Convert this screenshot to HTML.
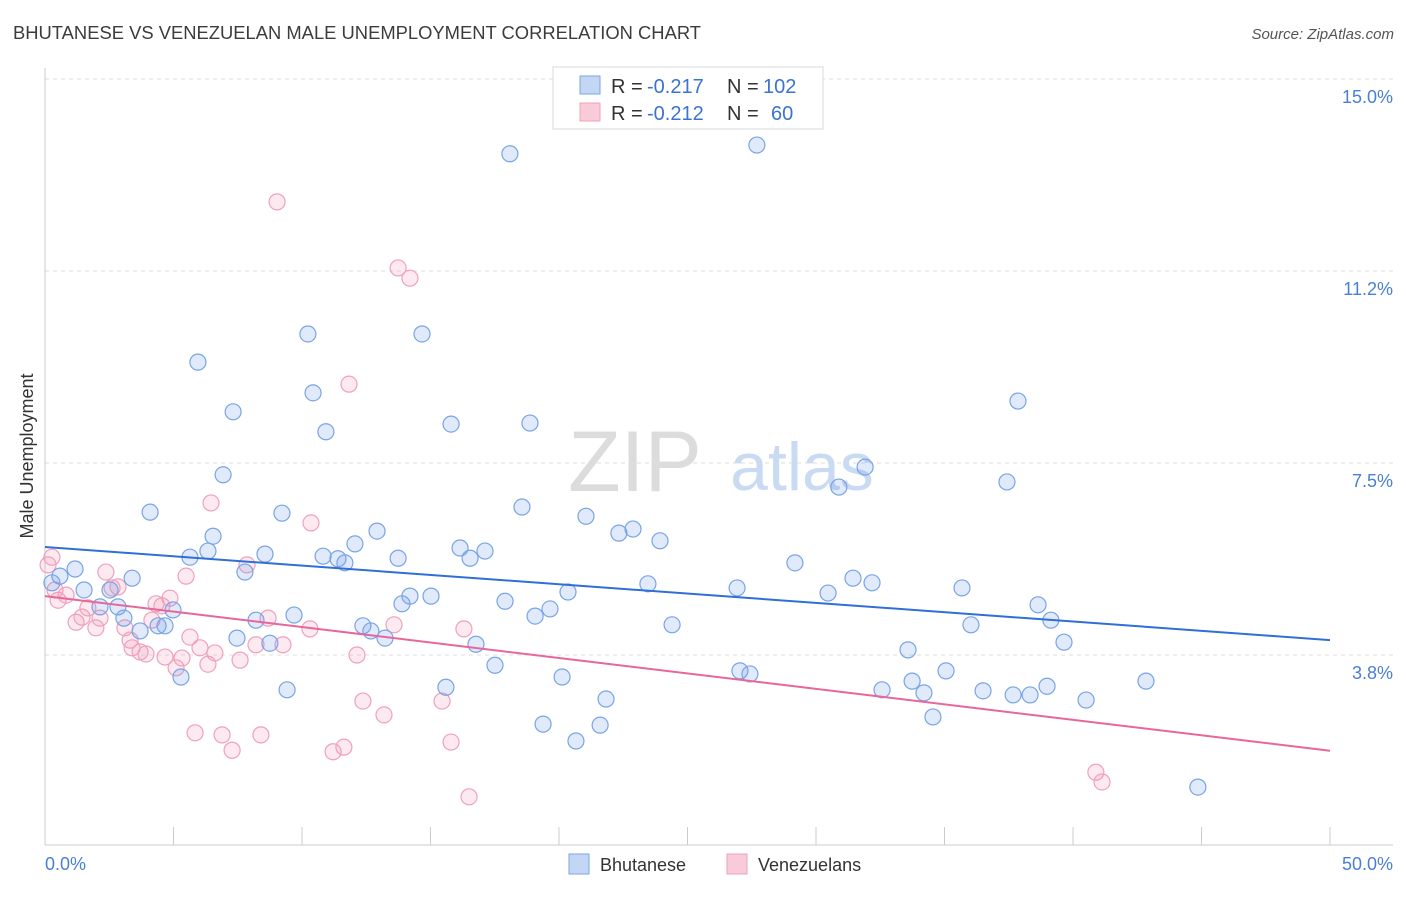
<!DOCTYPE html>
<html><head><meta charset="utf-8"><style>
body{margin:0;background:#fff;font-family:"Liberation Sans",sans-serif}
svg text{font-family:"Liberation Sans",sans-serif}
</style></head><body>
<svg id="chart" width="1406" height="892" viewBox="0 0 1406 892" xmlns="http://www.w3.org/2000/svg">
<text x="13" y="39" font-size="18" fill="#3c3c3c" textLength="688" lengthAdjust="spacingAndGlyphs">BHUTANESE VS VENEZUELAN MALE UNEMPLOYMENT CORRELATION CHART</text>
<text x="1394" y="39" font-size="15" fill="#555" text-anchor="end" font-style="italic">Source: ZipAtlas.com</text>
<g id="grid"></g>
<g>
<text x="635" y="491" font-size="86" fill="#dcdcdc" text-anchor="middle" font-family="Liberation Serif, serif">ZIP</text>
<text x="802" y="490" font-size="68" fill="#c9daf3" text-anchor="middle">atlas</text>
</g>
<g id="points"></g>
<g id="trends"></g>
<text transform="translate(33,456) rotate(-90)" font-size="18" fill="#333" text-anchor="middle">Male Unemployment</text>
<text x="45" y="870" font-size="18" fill="#4a7fd4">0.0%</text>
<text x="1393" y="870" font-size="18" fill="#4a7fd4" text-anchor="end">50.0%</text>
<g>
<rect x="553" y="67" width="270" height="62" fill="#fff" stroke="#d8d8d8"/>
<rect x="580" y="76" width="20" height="18" fill="#c3d7f5" stroke="#7aa6e6"/>
<rect x="580" y="103" width="20" height="18" fill="#f9cbd9" stroke="#f0a0bb"/>
<text x="611" y="93" font-size="20" fill="#333">R =</text>
<text x="647" y="93" font-size="20" fill="#3b73d0">-0.217</text>
<text x="727" y="93" font-size="20" fill="#333">N =</text>
<text x="763" y="93" font-size="20" fill="#3b73d0">102</text>
<text x="611" y="120" font-size="20" fill="#333">R =</text>
<text x="647" y="120" font-size="20" fill="#3b73d0">-0.212</text>
<text x="727" y="120" font-size="20" fill="#333">N =</text>
<text x="771" y="120" font-size="20" fill="#3b73d0">60</text>
</g>
<g>
<rect x="569" y="854" width="20" height="20" fill="#c3d7f5" stroke="#7aa6e6"/>
<text x="600" y="871" font-size="18" fill="#333">Bhutanese</text>
<rect x="727" y="854" width="20" height="20" fill="#f9cbd9" stroke="#f0a0bb"/>
<text x="758" y="871" font-size="18" fill="#333">Venezuelans</text>
</g>
</svg>
<script>
const yTicks=[3.8,7.5,11.2,15.0];
const yTickVals=[3.75,7.5,11.25,15.0];
const xTicks=[0,5,10,15,20,25,30,35,40,45,50];
const bhuX=[18.09,27.70,5.95,10.23,14.67,7.32,10.43,10.93,15.80,18.87,37.86,6.93,4.09,9.22,18.56,21.05,31.91,30.89,37.43,6.54,6.34,5.64,8.56,10.82,11.40,11.67,12.06,12.92,13.74,16.15,16.54,17.12,22.33,22.88,23.93,29.18,1.17,0.58,0.27,1.52,2.53,3.39,2.14,2.84,3.07,3.70,4.40,4.67,4.98,7.78,7.47,8.21,8.75,9.69,12.37,12.68,13.23,13.89,14.20,15.02,16.77,17.90,19.07,19.65,20.35,23.46,24.40,26.93,31.44,32.18,30.47,35.68,36.03,38.64,39.14,39.65,5.29,9.42,15.60,17.51,20.12,21.83,27.04,27.43,19.38,20.66,21.60,33.58,33.74,34.20,35.06,32.57,34.55,36.50,37.67,38.33,38.99,40.51,42.84,44.86];
const bhuY=[13.54,13.71,9.47,10.02,10.02,8.50,8.87,8.11,8.26,8.28,8.71,7.27,6.54,6.52,6.64,6.46,7.42,7.03,7.13,6.07,5.78,5.66,5.72,5.68,5.63,5.55,5.92,6.17,5.64,5.84,5.64,5.78,6.13,6.21,5.98,5.55,5.43,5.29,5.16,5.02,5.02,5.25,4.69,4.69,4.47,4.22,4.32,4.32,4.63,5.37,4.08,4.43,3.98,4.53,4.32,4.22,4.08,4.75,4.90,4.90,3.96,4.80,4.51,4.65,4.98,5.14,4.34,5.06,5.25,5.16,4.96,5.06,4.34,4.73,4.43,4.00,3.32,3.07,3.12,3.55,3.32,2.89,3.44,3.38,2.40,2.07,2.38,3.85,3.24,3.01,3.44,3.07,2.54,3.05,2.97,2.97,3.14,2.87,3.24,1.17];
const venX=[9.03,13.74,14.20,11.83,10.35,6.46,0.27,0.12,0.39,0.51,0.82,1.21,1.44,1.67,1.98,2.14,2.37,2.61,2.84,3.11,3.31,3.39,3.70,3.93,4.16,4.32,4.55,4.86,5.49,5.64,6.03,4.67,5.10,5.33,6.34,6.61,7.59,7.86,8.21,8.68,9.26,10.31,12.14,13.58,16.30,12.37,13.19,15.45,5.84,6.89,7.28,8.40,11.21,11.63,15.80,16.50,40.89,41.13];
const venY=[12.60,11.31,11.11,9.04,6.33,6.72,5.66,5.51,5.02,4.82,4.92,4.39,4.49,4.67,4.28,4.47,5.37,5.06,5.08,4.28,4.04,3.89,3.81,3.77,4.43,4.75,4.71,4.86,5.29,4.10,3.89,3.71,3.50,3.69,3.57,3.79,3.65,5.51,3.95,4.47,3.95,4.26,3.75,4.34,4.26,2.85,2.58,2.85,2.23,2.19,1.89,2.19,1.86,1.95,2.05,0.98,1.46,1.27];
const bhuTrend=[5.86,4.04];
const venTrend=[4.90,1.88];
const NS="http://www.w3.org/2000/svg";
const x=v=>45+v*25.7;
const y=v=>655-(v-3.75)*51.2;
function mk(t,a,p){const e=document.createElementNS(NS,t);for(const k in a)e.setAttribute(k,a[k]);p.appendChild(e);return e;}
const grid=document.getElementById('grid');
yTickVals.forEach((v,i)=>{
 const l=mk('line',{x1:45,x2:1393,y1:y(v),y2:y(v),stroke:'#ddd','stroke-dasharray':'4,4'},grid);
 
 
 const t=mk('text',{x:1393,y:y(v)+24,'font-size':18,fill:'#4a7fd4','text-anchor':'end'},grid);
 t.textContent=yTicks[i].toFixed(1)+'%';
 
 
});
const ax=mk('line',{x1:45,x2:1393,y1:845,y2:845,stroke:'#ccc'},grid);


const ay=mk('line',{x1:45,x2:45,y1:68,y2:845,stroke:'#ccc'},grid);


xTicks.forEach(v=>{
 const t=mk('line',{x1:x(v),x2:x(v),y1:827,y2:845,stroke:'#ccc'},grid);
 
 
});
const pts=document.getElementById('points');
function series(X,Y,fill,stroke,name){
 X.forEach((v,i)=>{
  const c=mk('circle',{cx:x(v),cy:y(Y[i]),r:8,fill:fill,stroke:stroke,'stroke-width':1.2},pts);
  
  
 });
}
series(venX,venY,'rgba(240,150,180,0.2)','#f0a0bb','venezuelan-point');
series(bhuX,bhuY,'rgba(100,150,230,0.2)','#78a4e6','bhutanese-point');
const tr=document.getElementById('trends');
const b=mk('line',{x1:x(0),y1:y(bhuTrend[0]),x2:x(50),y2:y(bhuTrend[1]),stroke:'#2f6fd6','stroke-width':2},tr);


const p=mk('line',{x1:x(0),y1:y(venTrend[0]),x2:x(50),y2:y(venTrend[1]),stroke:'#e8679a','stroke-width':2},tr);


</script>
</body></html>
